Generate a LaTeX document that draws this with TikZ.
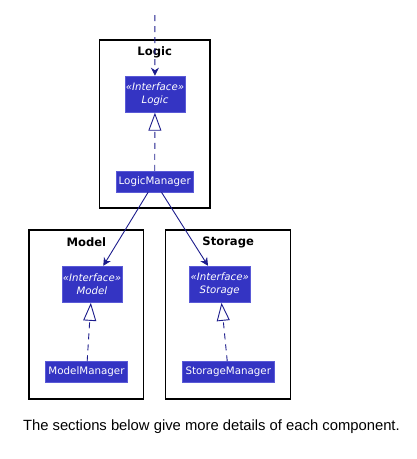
\documentclass[tikz,border=0pt]{standalone}
\usepackage{fontspec}
\setmainfont{Liberation Sans}
\newfontfamily\djv{DejaVu Sans}
\usetikzlibrary{arrows.meta}
\definecolor{boxfill}{RGB}{52,52,195}
\definecolor{boxline}{RGB}{90,90,215}
\definecolor{arrowc}{RGB}{28,28,140}
\tikzset{
  frame/.style={draw=black, line width=1.3pt, minimum width=#1, inner sep=0pt},
  ftitle/.style={font=\djv\fontsize{11.6}{13}\selectfont\bfseries, inner sep=0pt},
  iface/.style={draw=boxline, line width=0.5pt, fill=boxfill, text=white, minimum width=60.5pt, minimum height=36.5pt, inner sep=0pt, align=center, font=\djv\itshape\fontsize{10.2}{12.5}\selectfont},
  impl/.style={draw=boxline, line width=0.5pt, fill=boxfill, text=white, minimum height=21pt, inner sep=0pt, font=\djv\fontsize{10.3}{12}\selectfont},
  dep/.style={draw=arrowc, line width=0.9pt, -{Stealth[length=8pt,width=8pt,inset=2.5pt]}},
  real/.style={draw=arrowc, line width=0.9pt, dash pattern=on 6pt off 5pt, -{Triangle[open,length=18pt,width=13pt,fill=white]}},
}
\begin{document}
\begin{tikzpicture}[x=1pt,y=-1pt]
\useasboundingbox (0,0) rectangle (417,459);
% frames
\node[frame=110.5pt, minimum height=168pt] (logicF) at (154.75,124) {};
\node[frame=114.7pt, minimum height=169pt] (modelF) at (86.35,314.5) {};
\node[frame=125pt, minimum height=169pt] (storageF) at (228.2,314.5) {};
\node[ftitle] (logicT) at (154.75,52) {Logic};
\node[ftitle] (modelT) at (86.35,242.5) {Model};
\node[ftitle] (storageT) at (228.2,242.5) {Storage};
% classes
\node[iface] (ilogic) at (155,94.2) {«Interface»\\Logic};
\node[impl, minimum width=77.3pt] (lm) at (154.7,181.5) {LogicManager};
\node[iface] (imodel) at (92,284.3) {«Interface»\\Model};
\node[impl, minimum width=81.6pt] (mm) at (86.5,372) {ModelManager};
\node[iface, minimum width=60.7pt] (istorage) at (219.7,284.3) {«Interface»\\Storage};
\node[impl, minimum width=91.3pt] (sm) at (228.3,372) {StorageManager};
% connectors
\coordinate (top) at (154.8,15);
\draw[dep, dash pattern=on 6pt off 5pt] (top) -- (ilogic);
\draw[real] (lm) -- (ilogic);
\draw[dep] (lm) -- (imodel);
\draw[dep] (lm) -- (istorage);
\draw[real] (mm) -- (imodel);
\draw[real] (sm) -- (istorage);
% caption
\node[font=\fontsize{14.8}{17}\selectfont, inner sep=0pt] (caption) at (211.4,427) {The sections below give more details of each component.};
\end{tikzpicture}
\end{document}
